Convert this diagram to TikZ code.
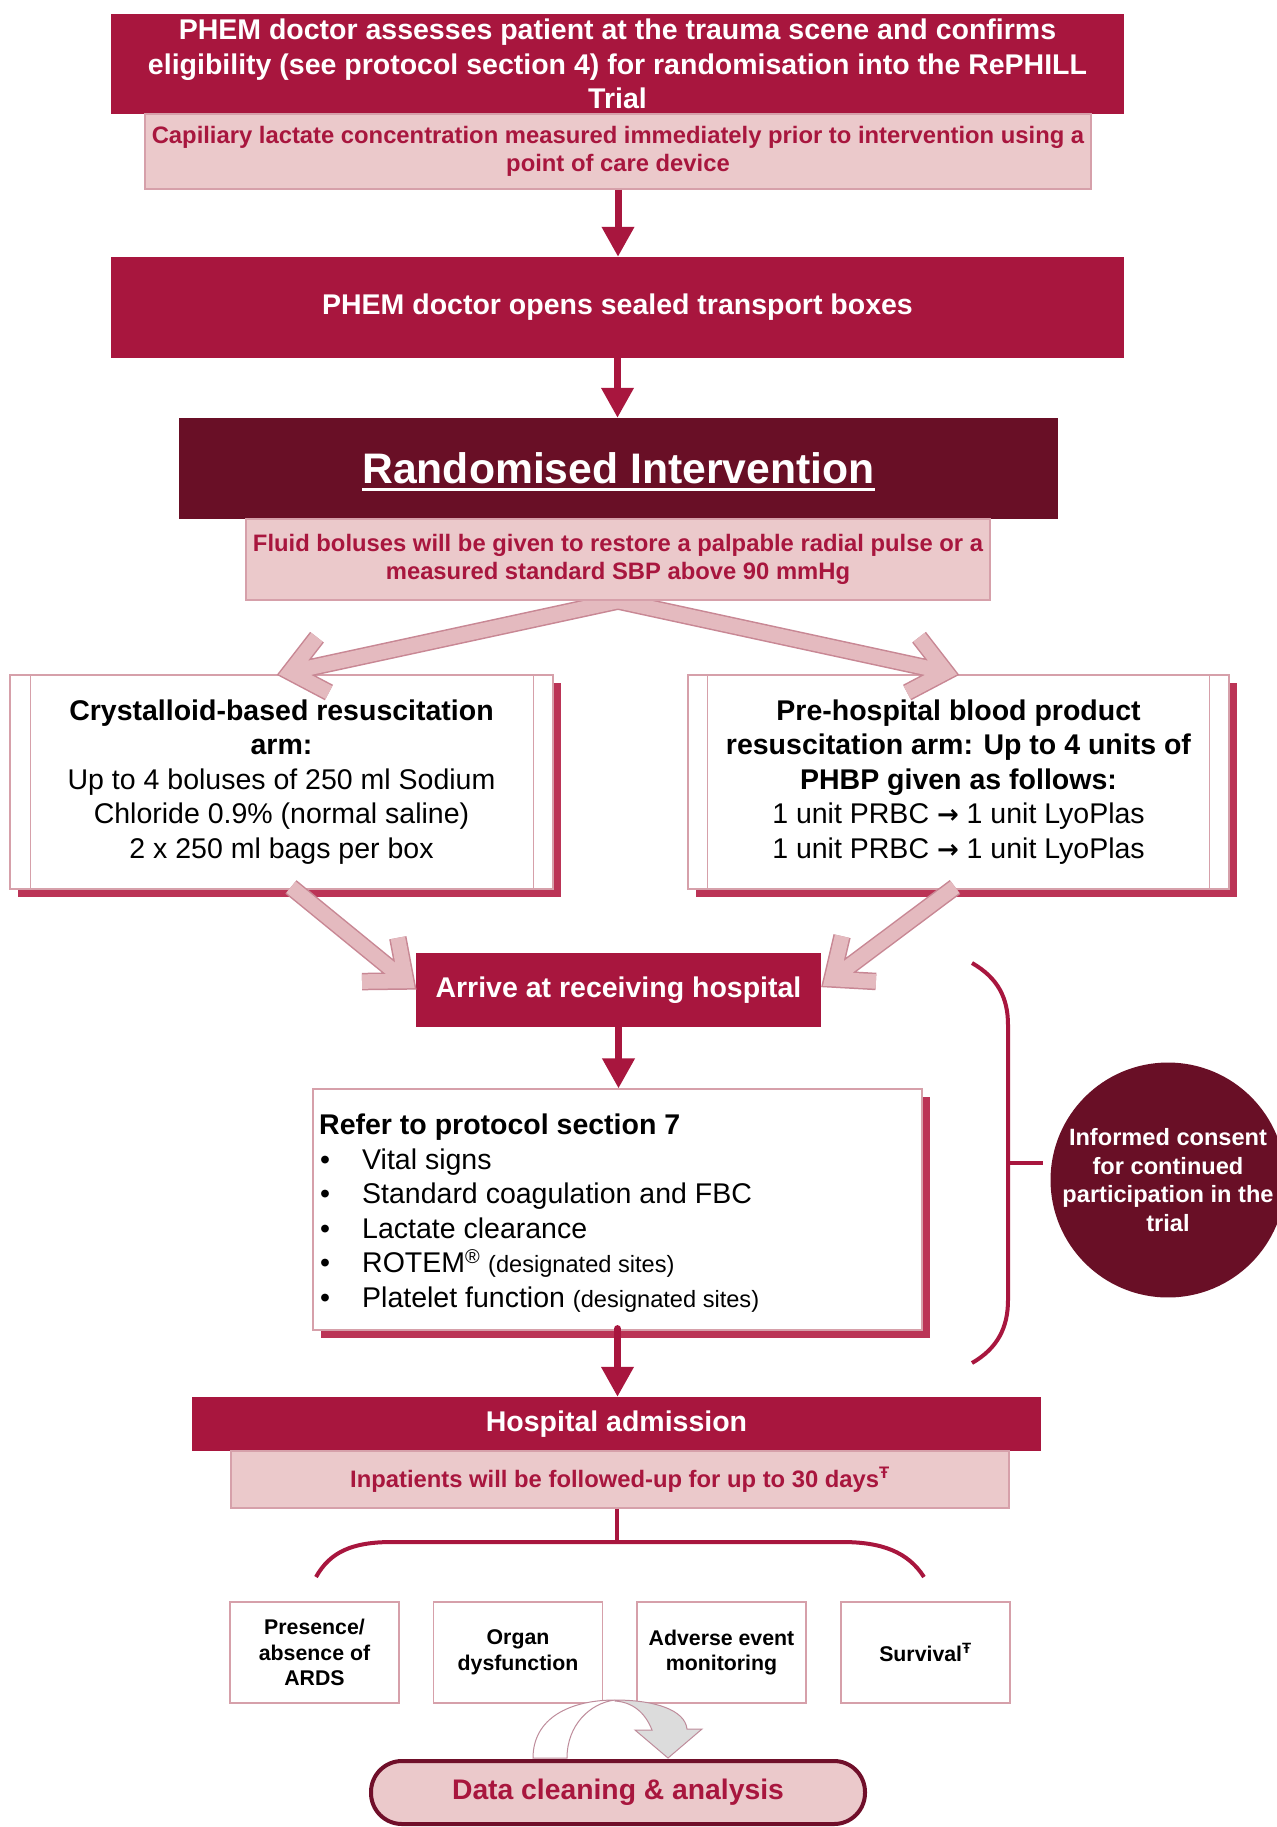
\documentclass[tikz,border=0pt]{standalone}
\usepackage{fontspec}
\setmainfont{Liberation Sans}
\newfontfamily\dejavu{DejaVu Sans}
\usetikzlibrary{arrows.meta,calc,shadows}
\definecolor{crimson}{RGB}{168,22,62}
\definecolor{maroon}{RGB}{105,15,38}
\definecolor{lpink}{RGB}{235,201,203}
\definecolor{pinkedge}{RGB}{214,160,170}
\definecolor{shadowc}{RGB}{187,52,86}
\definecolor{chevedge}{RGB}{200,135,148}
\definecolor{chevfill}{RGB}{228,186,191}
\definecolor{grayfill}{RGB}{220,220,220}
\definecolor{cedge}{RGB}{190,140,155}
\definecolor{pillb}{RGB}{112,15,42}
\newcommand\fsA{\fontsize{28.5pt}{34.5pt}\selectfont}
\newcommand\fsB{\fontsize{23.8pt}{28.5pt}\selectfont}
\newcommand\fsC{\fontsize{23.6pt}{28.7pt}\selectfont}
\newcommand\fsD{\fontsize{21.3pt}{25.5pt}\selectfont}
\newcommand\bul{\makebox[43pt][l]{\hspace{1pt}•}}
\newcommand\rarr{{\dejavu\bfseries\fontsize{26pt}{30pt}\selectfont →}}
\newcommand\chevron[3]{%
  \draw[#1] (#2) -- (#3) ($(#3)!44pt!40:(#2)$) -- (#3) -- ($(#3)!44pt!-40:(#2)$);}
\begin{document}
\begin{tikzpicture}[x=1pt,y=-1pt,
  crimbox/.style={fill=crimson, draw=none, text=white, font=\bfseries\fsA, align=center, inner sep=0pt},
  subbox/.style={fill=lpink, draw=pinkedge, line width=1.2pt, text=crimson, font=\bfseries\fsB, align=center, inner sep=0pt},
  armbox/.style={fill=white, draw=pinkedge, line width=1.2pt, text=black, font=\fsA, align=center, inner sep=0pt,
    drop shadow={shadow xshift=8pt, shadow yshift=-8pt, fill=shadowc, opacity=1}},
  smallbox/.style={fill=white, draw=pinkedge, line width=1.2pt, text=black, font=\bfseries\fsD, align=center, inner sep=0pt,
    minimum width=169pt, minimum height=101pt},
  carrow/.style={draw=crimson, line width=7pt, -{Triangle[length=30pt,width=31pt]}},
  chevE/.style={draw=chevedge, line width=17.5pt, line join=miter},
  chevF/.style={draw=chevfill, line width=14.5pt, line join=miter},
  brace/.style={draw=crimson, line width=4pt},
  innerline/.style={draw=pinkedge, line width=1.2pt}
]
\fill[white] (0,0) rectangle (1276,1827);
\useasboundingbox (0,0) rectangle (1276,1827);

% top section
\node[crimbox, minimum width=1013pt, minimum height=100pt] (top) at (617.5,64)
  {PHEM doctor assesses patient at the trauma scene and confirms\\eligibility (see protocol section 4) for randomisation into the RePHILL\\Trial};
\node[subbox, minimum width=946pt, minimum height=75pt] (cap) at (618,151.5)
  {Capiliary lactate concentration measured immediately prior to intervention using a\\point of care device};
\node[crimbox, minimum width=1013pt, minimum height=101pt] (box2) at (617.5,307.5)
  {PHEM doctor opens sealed transport boxes};
\node[fill=maroon, inner sep=0pt, minimum width=879pt, minimum height=101pt] (rand) at (618.5,468.5) {};
\node[font=\bfseries\fontsize{42.7pt}{50pt}\selectfont, text=white, inner sep=0pt] (randT) at (618.5,468.5) {Randomised Intervention};
\draw[white, line width=3pt] ([yshift=-5.5pt]randT.base west) -- ([yshift=-5.5pt]randT.base east);

% arm boxes
\node[armbox, minimum width=543pt, minimum height=214pt] (armL) at (281.5,782)
  {\textbf{Crystalloid-based resuscitation}\\\textbf{arm:}\\Up to 4 boluses of 250 ml Sodium\\Chloride 0.9\% (normal saline)\\2 x 250 ml bags per box};
\draw[innerline] ([xshift=21pt]armL.north west) -- ([xshift=21pt]armL.south west);
\draw[innerline] ([xshift=-20pt]armL.north east) -- ([xshift=-20pt]armL.south east);
\node[armbox, minimum width=541pt, minimum height=214pt] (armR) at (958.5,782)
  {\textbf{Pre-hospital blood product}\\\textbf{resuscitation arm: Up to 4 units of}\\\textbf{PHBP given as follows:}\\1 unit PRBC \rarr{} 1 unit LyoPlas\\1 unit PRBC \rarr{} 1 unit LyoPlas};
\draw[innerline] ([xshift=20pt]armR.north west) -- ([xshift=20pt]armR.south west);
\draw[innerline] ([xshift=-20pt]armR.north east) -- ([xshift=-20pt]armR.south east);

% upper chevron arrows
\coordinate (apex) at (618,601);
\coordinate (tipUL) at (290,672);
\coordinate (tipUR) at (946,672);
\chevron{chevE}{apex}{tipUL}
\chevron{chevE}{apex}{tipUR}
\chevron{chevF}{apex}{tipUL}
\chevron{chevF}{apex}{tipUR}

\node[subbox, minimum width=744pt, minimum height=81pt] (fluid) at (618,559.5)
  {Fluid boluses will be given to restore a palpable radial pulse or a\\measured standard SBP above 90 mmHg};

\draw[carrow] (cap.south) -- (cap.south |- box2.north);
\draw[carrow] (box2.south) -- (box2.south |- rand.north);

% arrive
\node[crimbox, minimum width=405pt, minimum height=74pt] (arrive) at (618.5,990) {Arrive at receiving hospital};
\coordinate (llS) at (291,887);
\coordinate (tipLL) at (406,981);
\coordinate (lrS) at (955,887);
\coordinate (tipLR) at (832,979);
\chevron{chevE}{llS}{tipLL}
\chevron{chevF}{llS}{tipLL}
\chevron{chevE}{lrS}{tipLR}
\chevron{chevF}{lrS}{tipLR}

% protocol box
\node[armbox, minimum width=609pt, minimum height=241pt] (proto) at (617.5,1209.5) {};
\node[font=\fsA, align=left, anchor=west, inner sep=0pt] (protoT) at (319,1213)
  {\textbf{Refer to protocol section 7}\\
   \bul Vital signs\\
   \bul Standard coagulation and FBC\\
   \bul Lactate clearance\\
   \bul ROTEM\textsuperscript{®} {\fontsize{23.6pt}{28pt}\selectfont (designated sites)}\\
   \bul Platelet function {\fontsize{23.6pt}{28pt}\selectfont (designated sites)}};
\draw[carrow] (arrive.south) -- (arrive.south |- proto.north);

% hospital admission
\node[crimbox, minimum width=849pt, minimum height=54pt] (hosp) at (616.5,1424) {Hospital admission};
\draw[carrow, line cap=round] ([yshift=2pt]proto.south) -- (proto.south |- hosp.north);
\node[subbox, minimum width=778pt, minimum height=57pt] (inpat) at (620,1479.5)
  {Inpatients will be followed-up for up to 30 days\textsuperscript{Ŧ}};

% lower bracket
\coordinate (bk) at (617,1542);
\draw[brace] (bk |- inpat.south) -- (bk);
\draw[brace] (316,1577) .. controls (330,1552) and (352,1542) .. (392,1542) -- (842,1542) .. controls (882,1542) and (908,1552) .. (924,1577);

% outcome boxes
\node[smallbox] (o1) at (314.5,1652.5) {Presence/\\absence of\\ARDS};
\node[smallbox] (o2) at (518,1652.5) {Organ\\dysfunction};
\node[smallbox] (o3) at (721.5,1652.5) {Adverse event\\monitoring};
\node[smallbox] (o4) at (925.5,1652.5) {Survival\textsuperscript{Ŧ}};

% curved arrow
\filldraw[fill=white, draw=cedge, line width=1pt] (533,1758) .. controls (533,1718) and (570,1700) .. (615,1700) .. controls (590,1703) and (567,1725) .. (567,1758) -- cycle;
\filldraw[fill=grayfill, draw=cedge, line width=1pt] (615,1700) .. controls (655,1700) and (685,1710) .. (687,1729) -- (702,1729) -- (668,1758) -- (635,1730) -- (652,1730) .. controls (645,1712) and (632,1702) .. (615,1701) -- cycle;

% data pill
\node[draw=pillb, line width=4pt, fill=lpink, rounded corners=31pt, minimum width=494pt, minimum height=63pt,
  text=crimson, font=\bfseries\fontsize{28.3pt}{34pt}\selectfont, inner sep=0pt] (data) at (618,1792.5) {Data cleaning \& analysis};

% right brace and consent circle
\draw[brace] (972,963) .. controls (998,978) and (1008,998) .. (1008,1025) -- (1008,1300) .. controls (1008,1327) and (998,1348) .. (972,1363);
\draw[brace] (1008,1163) -- (1043,1163);
\node[circle, fill=maroon, text=white, font=\bfseries\fsC, align=center, minimum size=230pt, inner sep=0pt] (consent) at (1168,1180)
  {Informed consent\\for continued\\participation in the\\trial};
\end{tikzpicture}
\end{document}
